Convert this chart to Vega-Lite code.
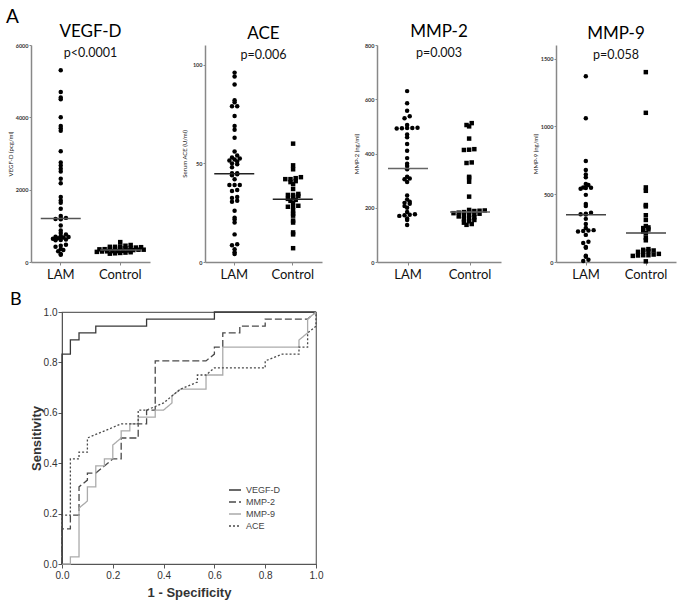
{
  "$schema": "https://vega.github.io/schema/vega-lite/v6.json",
  "padding": {"left": 6, "top": 7, "right": 4, "bottom": 5},
  "background": "white",
  "config": {
    "view": {"stroke": null},
    "font": "Lato",
    "axis": {"grid": false}
  },
  "spacing": 9,
  "resolve": {"scale": {"color": "independent", "strokeDash": "independent", "shape": "independent"}},
  "vconcat": [
    {
      "title": {"text": "A", "fontSize": 19, "fontWeight": "normal", "anchor": "start", "offset": -4, "dx": -1, "color": "black"},
      "bounds": "flush",
      "spacing": 55,
      "hconcat": [
        {
          "width": 119, "height": 217,
          "title": {"text": "VEGF-D", "subtitle": "p<0.0001", "fontSize": 17, "fontWeight": "normal", "subtitleFontSize": 12.5, "subtitleColor": "#111", "color": "black", "offset": -17, "subtitlePadding": 6, "anchor": "middle"},
          "layer": [
            {
              "data": {"values": [
                {"g":"LAM","v":5300},{"g":"LAM","v":4700},{"g":"LAM","v":4550},{"g":"LAM","v":4500},{"g":"LAM","v":4000},{"g":"LAM","v":3760},{"g":"LAM","v":3700},{"g":"LAM","v":3630},{"g":"LAM","v":3060},{"g":"LAM","v":2750},{"g":"LAM","v":2670},{"g":"LAM","v":2580},{"g":"LAM","v":2500},{"g":"LAM","v":2300},{"g":"LAM","v":2180},{"g":"LAM","v":1800},{"g":"LAM","v":1700},{"g":"LAM","v":1640},{"g":"LAM","v":1470},{"g":"LAM","v":1270},{"g":"LAM","v":1220},{"g":"LAM","v":1200},{"g":"LAM","v":1190},{"g":"LAM","v":1180},{"g":"LAM","v":1010},{"g":"LAM","v":870},{"g":"LAM","v":800},{"g":"LAM","v":760},{"g":"LAM","v":720},{"g":"LAM","v":700},{"g":"LAM","v":690},{"g":"LAM","v":680},{"g":"LAM","v":660},{"g":"LAM","v":640},{"g":"LAM","v":620},{"g":"LAM","v":610},{"g":"LAM","v":600},{"g":"LAM","v":480},{"g":"LAM","v":450},{"g":"LAM","v":420},{"g":"LAM","v":360},{"g":"LAM","v":330},{"g":"LAM","v":300},{"g":"LAM","v":220},{"g":"LAM","v":200},
                {"g":"Control","v":550},{"g":"Control","v":470},{"g":"Control","v":450},{"g":"Control","v":430},{"g":"Control","v":420},{"g":"Control","v":410},{"g":"Control","v":400},{"g":"Control","v":390},{"g":"Control","v":380},{"g":"Control","v":370},{"g":"Control","v":360},{"g":"Control","v":355},{"g":"Control","v":350},{"g":"Control","v":340},{"g":"Control","v":330},{"g":"Control","v":320},{"g":"Control","v":310},{"g":"Control","v":300},{"g":"Control","v":295},{"g":"Control","v":290},{"g":"Control","v":280},{"g":"Control","v":270},{"g":"Control","v":260},{"g":"Control","v":250},{"g":"Control","v":240},{"g":"Control","v":230},{"g":"Control","v":300},{"g":"Control","v":340},{"g":"Control","v":380},{"g":"Control","v":420}
              ]},
              "transform": [
                {"bin": {"step": 70}, "field": "v", "as": "b"},
                {"joinaggregate": [{"op": "count", "as": "n"}], "groupby": ["g", "b"]},
                {"window": [{"op": "row_number", "as": "r"}], "groupby": ["g", "b"], "sort": [{"field": "v"}]},
                {"calculate": "datum.r - (datum.n + 1) / 2", "as": "off"}
              ],
              "mark": {"type": "point", "filled": true, "size": 20, "color": "black", "opacity": 1},
              "encoding": {
                "x": {"field": "g", "type": "nominal", "sort": ["LAM", "Control"], "scale": {"type": "band", "paddingInner": 0.3, "paddingOuter": 0.15},
                      "axis": {"title": null, "labelAngle": 0, "labelFontSize": 13, "labelColor": "#111", "tickSize": 3, "tickColor": "#888", "domainColor": "#888", "domainWidth": 1.5, "labelPadding": 3}},
                "xOffset": {"field": "off", "type": "quantitative", "scale": {"domain": [-4, 4]}},
                "y": {"field": "v", "type": "quantitative", "scale": {"domain": [0, 6000]},
                      "axis": {"values": [0, 2000, 4000, 6000], "format": "d", "title": "VEGF-D (pcg/ml)", "titleFontSize": 6, "titleFontWeight": "normal", "titlePadding": 4, "titleColor": "#222", "labelFontSize": 5.5, "labelFontWeight": "bold", "labelColor": "#333", "labelPadding": 1, "tickSize": 2, "minExtent": 14, "maxExtent": 14, "domainColor": "#888", "domainWidth": 1.5, "tickColor": "#888"}},
                "shape": {"field": "g", "type": "nominal", "scale": {"domain": ["LAM", "Control"], "range": ["circle", "square"]}, "legend": null}
              }
            },
            {
              "data": {"values": [{"g": "LAM", "v": 1200}, {"g": "Control", "v": 330}]},
              "mark": {"type": "tick", "size": 40, "thickness": 1.5, "color": "#555", "opacity": 1},
              "encoding": {
                "x": {"field": "g", "type": "nominal", "sort": ["LAM", "Control"]},
                "y": {"field": "v", "type": "quantitative"}
              }
            }
          ]
        },
        {
          "width": 117, "height": 217,
          "title": {"text": "ACE", "subtitle": "p=0.006", "fontSize": 17, "fontWeight": "normal", "subtitleFontSize": 12.5, "subtitleColor": "#111", "color": "black", "offset": -17, "subtitlePadding": 6, "anchor": "middle"},
          "layer": [
            {
              "data": {"values": [
                {"g":"LAM","v":96},{"g":"LAM","v":94},{"g":"LAM","v":90},{"g":"LAM","v":82},{"g":"LAM","v":81},{"g":"LAM","v":79},{"g":"LAM","v":79},{"g":"LAM","v":74},{"g":"LAM","v":69},{"g":"LAM","v":67},{"g":"LAM","v":63},{"g":"LAM","v":56},{"g":"LAM","v":54},{"g":"LAM","v":53},{"g":"LAM","v":52.5},{"g":"LAM","v":52},{"g":"LAM","v":51.5},{"g":"LAM","v":51},{"g":"LAM","v":50},{"g":"LAM","v":49.5},{"g":"LAM","v":48},{"g":"LAM","v":45},{"g":"LAM","v":45},{"g":"LAM","v":44.5},{"g":"LAM","v":44},{"g":"LAM","v":42},{"g":"LAM","v":39},{"g":"LAM","v":39},{"g":"LAM","v":39},{"g":"LAM","v":36.5},{"g":"LAM","v":36},{"g":"LAM","v":33},{"g":"LAM","v":32.5},{"g":"LAM","v":31},{"g":"LAM","v":30.5},{"g":"LAM","v":26},{"g":"LAM","v":22.5},{"g":"LAM","v":21.5},{"g":"LAM","v":20},{"g":"LAM","v":14},{"g":"LAM","v":9},{"g":"LAM","v":8.5},{"g":"LAM","v":6.5},{"g":"LAM","v":5},{"g":"LAM","v":4},
                {"g":"Control","v":60},{"g":"Control","v":49},{"g":"Control","v":47},{"g":"Control","v":43},{"g":"Control","v":42.5},{"g":"Control","v":42},{"g":"Control","v":42},{"g":"Control","v":41},{"g":"Control","v":40.5},{"g":"Control","v":39.5},{"g":"Control","v":37},{"g":"Control","v":34.5},{"g":"Control","v":34},{"g":"Control","v":34},{"g":"Control","v":33.5},{"g":"Control","v":33},{"g":"Control","v":32},{"g":"Control","v":31.5},{"g":"Control","v":31},{"g":"Control","v":30},{"g":"Control","v":28.5},{"g":"Control","v":28},{"g":"Control","v":28},{"g":"Control","v":26},{"g":"Control","v":24.5},{"g":"Control","v":23.5},{"g":"Control","v":21},{"g":"Control","v":20},{"g":"Control","v":15},{"g":"Control","v":14},{"g":"Control","v":7}
              ]},
              "transform": [
                {"bin": {"step": 1.6}, "field": "v", "as": "b"},
                {"joinaggregate": [{"op": "count", "as": "n"}], "groupby": ["g", "b"]},
                {"window": [{"op": "row_number", "as": "r"}], "groupby": ["g", "b"], "sort": [{"field": "v"}]},
                {"calculate": "datum.r - (datum.n + 1) / 2", "as": "off"}
              ],
              "mark": {"type": "point", "filled": true, "size": 20, "color": "black", "opacity": 1},
              "encoding": {
                "x": {"field": "g", "type": "nominal", "sort": ["LAM", "Control"], "scale": {"type": "band", "paddingInner": 0.3, "paddingOuter": 0.15},
                      "axis": {"title": null, "labelAngle": 0, "labelFontSize": 13, "labelColor": "#111", "tickSize": 3, "tickColor": "#888", "domainColor": "#888", "domainWidth": 1.5, "labelPadding": 3}},
                "xOffset": {"field": "off", "type": "quantitative", "scale": {"domain": [-3.5, 3.5]}},
                "y": {"field": "v", "type": "quantitative", "scale": {"domain": [0, 110]},
                      "axis": {"values": [0, 50, 100], "format": "d", "title": "Serum  ACE (U/ml)", "titleFontSize": 6, "titleFontWeight": "normal", "titlePadding": 4, "titleColor": "#222", "labelFontSize": 5.5, "labelFontWeight": "bold", "labelColor": "#333", "labelPadding": 1, "tickSize": 2, "minExtent": 14, "maxExtent": 14, "domainColor": "#888", "domainWidth": 1.5, "tickColor": "#888"}},
                "shape": {"field": "g", "type": "nominal", "scale": {"domain": ["LAM", "Control"], "range": ["circle", "square"]}, "legend": null}
              }
            },
            {
              "data": {"values": [{"g": "LAM", "v": 44.7}, {"g": "Control", "v": 31.8}]},
              "mark": {"type": "tick", "size": 40, "thickness": 1.5, "color": "#222", "opacity": 1},
              "encoding": {
                "x": {"field": "g", "type": "nominal", "sort": ["LAM", "Control"]},
                "y": {"field": "v", "type": "quantitative"}
              }
            }
          ]
        },
        {
          "width": 124, "height": 217,
          "title": {"text": "MMP-2", "subtitle": "p=0.003", "fontSize": 17, "fontWeight": "normal", "subtitleFontSize": 12.5, "subtitleColor": "#111", "color": "black", "offset": -17, "subtitlePadding": 6, "anchor": "middle"},
          "layer": [
            {
              "data": {"values": [
                {"g":"LAM","v":630},{"g":"LAM","v":585},{"g":"LAM","v":558},{"g":"LAM","v":537},{"g":"LAM","v":530},{"g":"LAM","v":505},{"g":"LAM","v":495},{"g":"LAM","v":494},{"g":"LAM","v":494},{"g":"LAM","v":493},{"g":"LAM","v":492},{"g":"LAM","v":470},{"g":"LAM","v":460},{"g":"LAM","v":435},{"g":"LAM","v":410},{"g":"LAM","v":383},{"g":"LAM","v":362},{"g":"LAM","v":354},{"g":"LAM","v":342},{"g":"LAM","v":314},{"g":"LAM","v":308},{"g":"LAM","v":305},{"g":"LAM","v":295},{"g":"LAM","v":245},{"g":"LAM","v":230},{"g":"LAM","v":222},{"g":"LAM","v":218},{"g":"LAM","v":215},{"g":"LAM","v":206},{"g":"LAM","v":200},{"g":"LAM","v":184},{"g":"LAM","v":176},{"g":"LAM","v":174},{"g":"LAM","v":172},{"g":"LAM","v":170},{"g":"LAM","v":160},{"g":"LAM","v":155},{"g":"LAM","v":136},
                {"g":"Control","v":512},{"g":"Control","v":505},{"g":"Control","v":500},{"g":"Control","v":455},{"g":"Control","v":416},{"g":"Control","v":414},{"g":"Control","v":413},{"g":"Control","v":367},{"g":"Control","v":365},{"g":"Control","v":314},{"g":"Control","v":310},{"g":"Control","v":296},{"g":"Control","v":241},{"g":"Control","v":192},{"g":"Control","v":190},{"g":"Control","v":189},{"g":"Control","v":188},{"g":"Control","v":186},{"g":"Control","v":184},{"g":"Control","v":182},{"g":"Control","v":180},{"g":"Control","v":178},{"g":"Control","v":177},{"g":"Control","v":175},{"g":"Control","v":172},{"g":"Control","v":168},{"g":"Control","v":165},{"g":"Control","v":162},{"g":"Control","v":158},{"g":"Control","v":155},{"g":"Control","v":150},{"g":"Control","v":145},{"g":"Control","v":140},{"g":"Control","v":137}
              ]},
              "transform": [
                {"bin": {"step": 12}, "field": "v", "as": "b"},
                {"joinaggregate": [{"op": "count", "as": "n"}], "groupby": ["g", "b"]},
                {"window": [{"op": "row_number", "as": "r"}], "groupby": ["g", "b"], "sort": [{"field": "v"}]},
                {"calculate": "datum.r - (datum.n + 1) / 2", "as": "off"}
              ],
              "mark": {"type": "point", "filled": true, "size": 20, "color": "black", "opacity": 1},
              "encoding": {
                "x": {"field": "g", "type": "nominal", "sort": ["LAM", "Control"], "scale": {"type": "band", "paddingInner": 0.3, "paddingOuter": 0.15},
                      "axis": {"title": null, "labelAngle": 0, "labelFontSize": 13, "labelColor": "#111", "tickSize": 3, "tickColor": "#888", "domainColor": "#888", "domainWidth": 1.5, "labelPadding": 3}},
                "xOffset": {"field": "off", "type": "quantitative", "scale": {"domain": [-3.5, 3.5]}},
                "y": {"field": "v", "type": "quantitative", "scale": {"domain": [0, 800]},
                      "axis": {"values": [0, 200, 400, 600, 800], "format": "d", "title": "MMP-2 (ng/ml)", "titleFontSize": 6, "titleFontWeight": "normal", "titlePadding": 4, "titleColor": "#222", "labelFontSize": 5.5, "labelFontWeight": "bold", "labelColor": "#333", "labelPadding": 1, "tickSize": 2, "minExtent": 14, "maxExtent": 14, "domainColor": "#888", "domainWidth": 1.5, "tickColor": "#888"}},
                "shape": {"field": "g", "type": "nominal", "scale": {"domain": ["LAM", "Control"], "range": ["circle", "square"]}, "legend": null}
              }
            },
            {
              "data": {"values": [{"g": "LAM", "v": 345}, {"g": "Control", "v": 184}]},
              "mark": {"type": "tick", "size": 40, "thickness": 1.5, "color": "#666", "opacity": 1},
              "encoding": {
                "x": {"field": "g", "type": "nominal", "sort": ["LAM", "Control"]},
                "y": {"field": "v", "type": "quantitative"}
              }
            }
          ]
        },
        {
          "width": 120, "height": 217,
          "title": {"text": "MMP-9", "subtitle": "p=0.058", "fontSize": 17, "fontWeight": "normal", "subtitleFontSize": 12.5, "subtitleColor": "#111", "color": "black", "offset": -17, "subtitlePadding": 6, "anchor": "middle"},
          "layer": [
            {
              "data": {"values": [
                {"g":"LAM","v":1370},{"g":"LAM","v":1060},{"g":"LAM","v":745},{"g":"LAM","v":678},{"g":"LAM","v":646},{"g":"LAM","v":625},{"g":"LAM","v":575},{"g":"LAM","v":567},{"g":"LAM","v":550},{"g":"LAM","v":548},{"g":"LAM","v":545},{"g":"LAM","v":540},{"g":"LAM","v":495},{"g":"LAM","v":428},{"g":"LAM","v":412},{"g":"LAM","v":363},{"g":"LAM","v":355},{"g":"LAM","v":352},{"g":"LAM","v":350},{"g":"LAM","v":318},{"g":"LAM","v":280},{"g":"LAM","v":250},{"g":"LAM","v":235},{"g":"LAM","v":232},{"g":"LAM","v":228},{"g":"LAM","v":225},{"g":"LAM","v":200},{"g":"LAM","v":150},{"g":"LAM","v":140},{"g":"LAM","v":110},{"g":"LAM","v":105},{"g":"LAM","v":46},{"g":"LAM","v":38},{"g":"LAM","v":16},{"g":"LAM","v":7},
                {"g":"Control","v":1400},{"g":"Control","v":1100},{"g":"Control","v":550},{"g":"Control","v":525},{"g":"Control","v":420},{"g":"Control","v":410},{"g":"Control","v":345},{"g":"Control","v":310},{"g":"Control","v":265},{"g":"Control","v":255},{"g":"Control","v":250},{"g":"Control","v":240},{"g":"Control","v":225},{"g":"Control","v":212},{"g":"Control","v":180},{"g":"Control","v":160},{"g":"Control","v":95},{"g":"Control","v":90},{"g":"Control","v":85},{"g":"Control","v":80},{"g":"Control","v":78},{"g":"Control","v":75},{"g":"Control","v":60},{"g":"Control","v":55},{"g":"Control","v":50},{"g":"Control","v":50},{"g":"Control","v":48},{"g":"Control","v":45},{"g":"Control","v":5}
              ]},
              "transform": [
                {"bin": {"step": 22}, "field": "v", "as": "b"},
                {"joinaggregate": [{"op": "count", "as": "n"}], "groupby": ["g", "b"]},
                {"window": [{"op": "row_number", "as": "r"}], "groupby": ["g", "b"], "sort": [{"field": "v"}]},
                {"calculate": "datum.r - (datum.n + 1) / 2", "as": "off"}
              ],
              "mark": {"type": "point", "filled": true, "size": 20, "color": "black", "opacity": 1},
              "encoding": {
                "x": {"field": "g", "type": "nominal", "sort": ["LAM", "Control"], "scale": {"type": "band", "paddingInner": 0.3, "paddingOuter": 0.15},
                      "axis": {"title": null, "labelAngle": 0, "labelFontSize": 13, "labelColor": "#111", "tickSize": 3, "tickColor": "#888", "domainColor": "#888", "domainWidth": 1.5, "labelPadding": 3}},
                "xOffset": {"field": "off", "type": "quantitative", "scale": {"domain": [-3.5, 3.5]}},
                "y": {"field": "v", "type": "quantitative", "scale": {"domain": [0, 1500]},
                      "axis": {"values": [0, 500, 1000, 1500], "format": "d", "title": "MMP-9 (ng/ml)", "titleFontSize": 6, "titleFontWeight": "normal", "titlePadding": 4, "titleColor": "#222", "labelFontSize": 5.5, "labelFontWeight": "bold", "labelColor": "#333", "labelPadding": 1, "tickSize": 2, "minExtent": 14, "maxExtent": 14, "domainColor": "#888", "domainWidth": 1.5, "tickColor": "#888"}},
                "shape": {"field": "g", "type": "nominal", "scale": {"domain": ["LAM", "Control"], "range": ["circle", "square"]}, "legend": null}
              }
            },
            {
              "data": {"values": [{"g": "LAM", "v": 348}, {"g": "Control", "v": 214}]},
              "mark": {"type": "tick", "size": 40, "thickness": 1.5, "color": "#444", "opacity": 1},
              "encoding": {
                "x": {"field": "g", "type": "nominal", "sort": ["LAM", "Control"]},
                "y": {"field": "v", "type": "quantitative"}
              }
            }
          ]
        }
      ]
    },
    {
      "bounds": "flush",
      "spacing": 30,
      "hconcat": [
        {
          "width": 1, "height": 252,
          "data": {"values": [{}]},
          "mark": {"type": "text", "text": ""},
          "encoding": {}
        },
        {
          "width": 254, "height": 252,
          "view": {"stroke": "#666", "strokeWidth": 1.2},
          "title": {"text": "B", "fontSize": 18, "fontWeight": "normal", "anchor": "start", "frame": "group", "offset": -2, "dx": -52, "color": "black", "font": "Lato"},
          "data": {"values": [
            {"m":"VEGF-D","fpr":0,"tpr":0},{"m":"VEGF-D","fpr":0,"tpr":0.833},{"m":"VEGF-D","fpr":0.033,"tpr":0.833},{"m":"VEGF-D","fpr":0.033,"tpr":0.889},{"m":"VEGF-D","fpr":0.067,"tpr":0.889},{"m":"VEGF-D","fpr":0.067,"tpr":0.917},{"m":"VEGF-D","fpr":0.133,"tpr":0.917},{"m":"VEGF-D","fpr":0.133,"tpr":0.944},{"m":"VEGF-D","fpr":0.333,"tpr":0.944},{"m":"VEGF-D","fpr":0.333,"tpr":0.972},{"m":"VEGF-D","fpr":0.6,"tpr":0.972},{"m":"VEGF-D","fpr":0.6,"tpr":1},{"m":"VEGF-D","fpr":1,"tpr":1},
            {"m":"MMP-2","fpr":0,"tpr":0},{"m":"MMP-2","fpr":0,"tpr":0.139},{"m":"MMP-2","fpr":0.033,"tpr":0.139},{"m":"MMP-2","fpr":0.033,"tpr":0.194},{"m":"MMP-2","fpr":0.067,"tpr":0.194},{"m":"MMP-2","fpr":0.067,"tpr":0.306},{"m":"MMP-2","fpr":0.1,"tpr":0.333},{"m":"MMP-2","fpr":0.1,"tpr":0.361},{"m":"MMP-2","fpr":0.133,"tpr":0.361},{"m":"MMP-2","fpr":0.167,"tpr":0.389},{"m":"MMP-2","fpr":0.2,"tpr":0.417},{"m":"MMP-2","fpr":0.233,"tpr":0.417},{"m":"MMP-2","fpr":0.233,"tpr":0.5},{"m":"MMP-2","fpr":0.3,"tpr":0.5},{"m":"MMP-2","fpr":0.3,"tpr":0.556},{"m":"MMP-2","fpr":0.333,"tpr":0.556},{"m":"MMP-2","fpr":0.333,"tpr":0.611},{"m":"MMP-2","fpr":0.367,"tpr":0.611},{"m":"MMP-2","fpr":0.367,"tpr":0.806},{"m":"MMP-2","fpr":0.567,"tpr":0.806},{"m":"MMP-2","fpr":0.6,"tpr":0.833},{"m":"MMP-2","fpr":0.6,"tpr":0.861},{"m":"MMP-2","fpr":0.633,"tpr":0.861},{"m":"MMP-2","fpr":0.633,"tpr":0.917},{"m":"MMP-2","fpr":0.7,"tpr":0.917},{"m":"MMP-2","fpr":0.7,"tpr":0.944},{"m":"MMP-2","fpr":0.8,"tpr":0.944},{"m":"MMP-2","fpr":0.8,"tpr":0.972},{"m":"MMP-2","fpr":0.967,"tpr":0.972},{"m":"MMP-2","fpr":1,"tpr":1},
            {"m":"MMP-9","fpr":0,"tpr":0},{"m":"MMP-9","fpr":0.033,"tpr":0},{"m":"MMP-9","fpr":0.033,"tpr":0.028},{"m":"MMP-9","fpr":0.067,"tpr":0.028},{"m":"MMP-9","fpr":0.067,"tpr":0.222},{"m":"MMP-9","fpr":0.1,"tpr":0.25},{"m":"MMP-9","fpr":0.1,"tpr":0.306},{"m":"MMP-9","fpr":0.133,"tpr":0.306},{"m":"MMP-9","fpr":0.133,"tpr":0.389},{"m":"MMP-9","fpr":0.167,"tpr":0.389},{"m":"MMP-9","fpr":0.167,"tpr":0.417},{"m":"MMP-9","fpr":0.2,"tpr":0.417},{"m":"MMP-9","fpr":0.2,"tpr":0.472},{"m":"MMP-9","fpr":0.233,"tpr":0.5},{"m":"MMP-9","fpr":0.233,"tpr":0.528},{"m":"MMP-9","fpr":0.267,"tpr":0.528},{"m":"MMP-9","fpr":0.267,"tpr":0.556},{"m":"MMP-9","fpr":0.3,"tpr":0.556},{"m":"MMP-9","fpr":0.3,"tpr":0.583},{"m":"MMP-9","fpr":0.367,"tpr":0.583},{"m":"MMP-9","fpr":0.367,"tpr":0.611},{"m":"MMP-9","fpr":0.4,"tpr":0.611},{"m":"MMP-9","fpr":0.433,"tpr":0.639},{"m":"MMP-9","fpr":0.433,"tpr":0.667},{"m":"MMP-9","fpr":0.467,"tpr":0.694},{"m":"MMP-9","fpr":0.567,"tpr":0.694},{"m":"MMP-9","fpr":0.567,"tpr":0.75},{"m":"MMP-9","fpr":0.633,"tpr":0.75},{"m":"MMP-9","fpr":0.633,"tpr":0.861},{"m":"MMP-9","fpr":0.933,"tpr":0.861},{"m":"MMP-9","fpr":0.933,"tpr":0.889},{"m":"MMP-9","fpr":0.967,"tpr":0.917},{"m":"MMP-9","fpr":0.967,"tpr":0.972},{"m":"MMP-9","fpr":1,"tpr":1},
            {"m":"ACE","fpr":0,"tpr":0},{"m":"ACE","fpr":0,"tpr":0.194},{"m":"ACE","fpr":0.033,"tpr":0.194},{"m":"ACE","fpr":0.033,"tpr":0.417},{"m":"ACE","fpr":0.067,"tpr":0.417},{"m":"ACE","fpr":0.067,"tpr":0.444},{"m":"ACE","fpr":0.1,"tpr":0.444},{"m":"ACE","fpr":0.1,"tpr":0.5},{"m":"ACE","fpr":0.133,"tpr":0.514},{"m":"ACE","fpr":0.2,"tpr":0.542},{"m":"ACE","fpr":0.233,"tpr":0.556},{"m":"ACE","fpr":0.3,"tpr":0.556},{"m":"ACE","fpr":0.3,"tpr":0.611},{"m":"ACE","fpr":0.333,"tpr":0.611},{"m":"ACE","fpr":0.367,"tpr":0.625},{"m":"ACE","fpr":0.4,"tpr":0.639},{"m":"ACE","fpr":0.433,"tpr":0.667},{"m":"ACE","fpr":0.467,"tpr":0.694},{"m":"ACE","fpr":0.5,"tpr":0.708},{"m":"ACE","fpr":0.533,"tpr":0.722},{"m":"ACE","fpr":0.533,"tpr":0.75},{"m":"ACE","fpr":0.567,"tpr":0.75},{"m":"ACE","fpr":0.6,"tpr":0.778},{"m":"ACE","fpr":0.8,"tpr":0.778},{"m":"ACE","fpr":0.8,"tpr":0.806},{"m":"ACE","fpr":0.867,"tpr":0.833},{"m":"ACE","fpr":0.933,"tpr":0.833},{"m":"ACE","fpr":0.933,"tpr":0.861},{"m":"ACE","fpr":0.967,"tpr":0.861},{"m":"ACE","fpr":0.967,"tpr":0.917},{"m":"ACE","fpr":1,"tpr":0.944},{"m":"ACE","fpr":1,"tpr":1}
          ]},
          "mark": {"type": "line", "strokeWidth": 1.3},
          "encoding": {
            "x": {"field": "fpr", "type": "quantitative", "scale": {"domain": [0, 1]},
                  "axis": {"values": [0, 0.2, 0.4, 0.6, 0.8, 1], "format": ".1f", "title": "1 - Specificity", "titleFont": "Liberation Sans", "titleFontSize": 13, "titleFontWeight": "bold", "titleColor": "#333", "titlePadding": 6, "labelFont": "Liberation Sans", "labelFontSize": 10, "labelColor": "#333", "tickSize": 4, "tickColor": "#555", "domainColor": "#555", "labelFlush": false}},
            "y": {"field": "tpr", "type": "quantitative", "scale": {"domain": [0, 1]},
                  "axis": {"values": [0, 0.2, 0.4, 0.6, 0.8, 1], "format": ".1f", "title": "Sensitivity", "titleFont": "Liberation Sans", "titleFontSize": 13, "titleFontWeight": "bold", "titleColor": "#333", "titlePadding": 0, "labelPadding": 1, "labelFont": "Liberation Sans", "labelFontSize": 10, "labelColor": "#333", "tickSize": 4, "tickColor": "#555", "domainColor": "#555", "labelFlush": false}},
            "color": {"field": "m", "type": "nominal", "scale": {"domain": ["VEGF-D", "MMP-2", "MMP-9", "ACE"], "range": ["#383838", "#4a4a4a", "#ababab", "#4a4a4a"]},
                      "legend": {"title": null, "orient": "none", "legendX": 197, "legendY": 171, "symbolType": "stroke", "symbolStrokeWidth": 1.5, "symbolSize": 144, "labelFont": "Liberation Sans", "labelFontSize": 9, "labelColor": "#444", "rowPadding": -1.5, "labelOffset": 4}},
            "strokeDash": {"field": "m", "type": "nominal", "scale": {"domain": ["VEGF-D", "MMP-2", "MMP-9", "ACE"], "range": [[1, 0], [7, 3], [1, 0], [2, 2]]},
                      "legend": {"title": null, "orient": "none", "legendX": 197, "legendY": 171, "symbolType": "stroke", "symbolStrokeWidth": 1.5, "symbolSize": 144, "labelFont": "Liberation Sans", "labelFontSize": 9, "labelColor": "#444", "rowPadding": -1.5, "labelOffset": 4}},
            "order": {"value": null}
          }
        }
      ]
    }
  ]
}
